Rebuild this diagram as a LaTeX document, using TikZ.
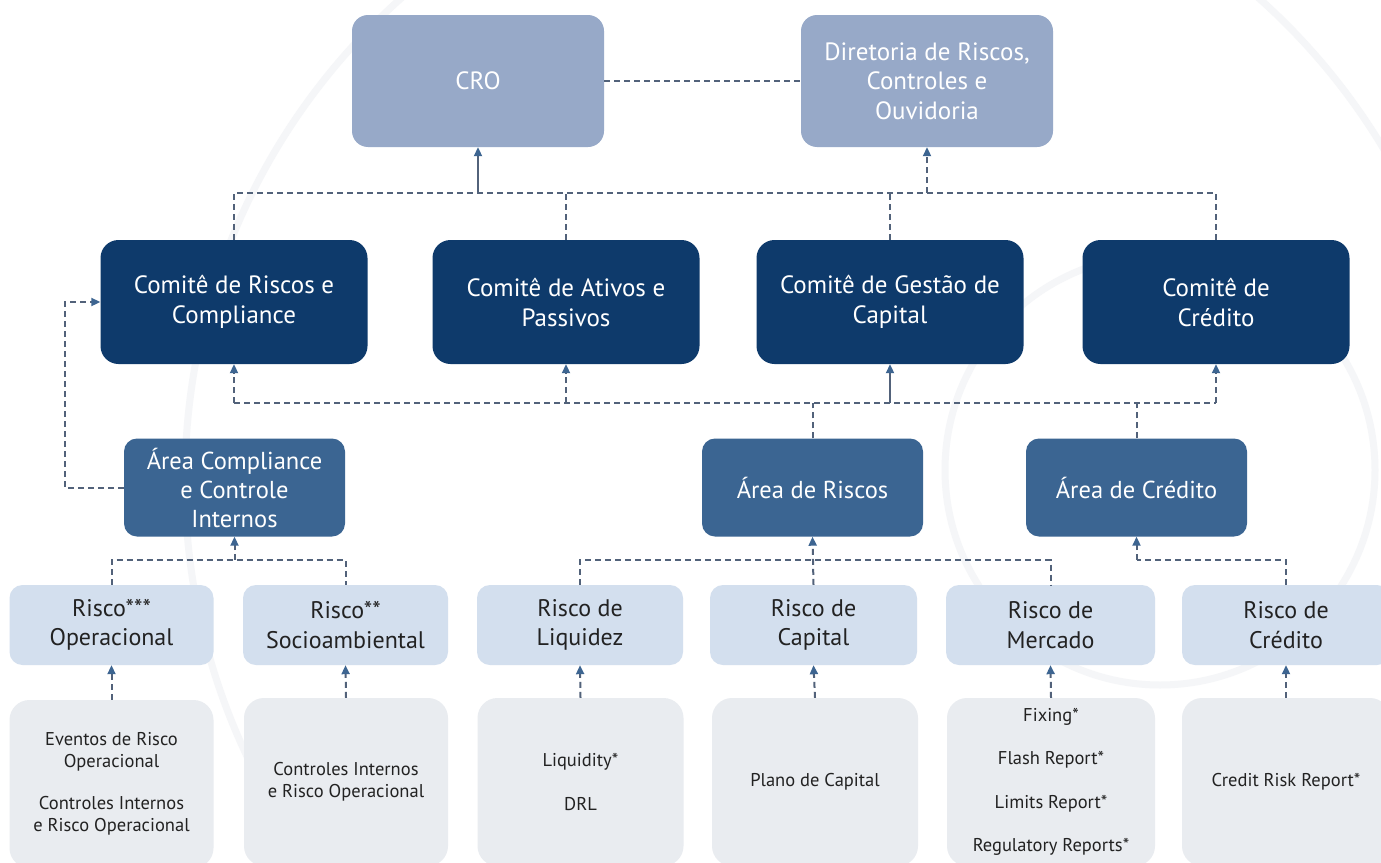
\documentclass[tikz,border=0pt]{standalone}
\usepackage{fontspec}
\setmainfont{PT Sans}
\usetikzlibrary{arrows.meta}
\definecolor{topc}{HTML}{97A9C8}
\definecolor{comc}{HTML}{0E3A6B}
\definecolor{areac}{HTML}{3B6592}
\definecolor{riskc}{HTML}{D3DFEE}
\definecolor{botc}{HTML}{E9ECF0}
\definecolor{linkc}{HTML}{52627A}
\definecolor{arrc}{HTML}{3D6591}
\definecolor{txtc}{HTML}{222222}
\definecolor{wmc}{HTML}{F5F6F8}
\tikzset{
  base/.style={rectangle, rounded corners=16pt, inner sep=0pt, align=center},
  topbox/.style={base, fill=topc, text=white, font=\fontsize{25}{29.5}\selectfont, minimum width=252pt, minimum height=132pt},
  combox/.style={base, rounded corners=18pt, fill=comc, text=white, font=\fontsize{25}{30}\selectfont, minimum width=267pt, minimum height=124pt},
  areabox/.style={base, rounded corners=13pt, fill=areac, text=white, font=\fontsize{24.5}{29}\selectfont, minimum width=221pt, minimum height=98pt},
  riskbox/.style={base, rounded corners=13pt, fill=riskc, text=txtc, font=\fontsize{24}{29.5}\selectfont, minimum width=205pt, minimum height=80pt},
  botbox/.style={base, rounded corners=20pt, fill=botc, text=txtc, font=\fontsize{18.5}{21.5}\selectfont, minimum width=205pt, minimum height=168pt},
  link/.style={draw=linkc, line width=2pt, dash pattern=on 6pt off 4pt},
  arr/.style={link, -{Triangle[length=9pt,width=8pt,color=arrc]}},
  solidarr/.style={draw=linkc, line width=2pt, -{Triangle[length=9pt,width=8pt,color=arrc]}},
  wm/.style={draw=wmc, line width=7pt}
}
\begin{document}
\begin{tikzpicture}[x=1pt,y=-1pt]
\useasboundingbox (0,0) rectangle (1381,862);
\clip (0,0) rectangle (1381,862);
\fill[white] (0,0) rectangle (1381,862);
% faint watermark
\draw[wm] (830,480) circle (645pt);
\draw[wm] (1160,470) circle (215pt);

% top row
\node[topbox] (cro) at (478,81) {CRO};
\node[topbox] (dir) at (927,81) {Diretoria de Riscos,\\Controles e\\Ouvidoria};

% committees
\node[combox] (c1) at (234,302) {Comitê de Riscos e\\Compliance};
\node[combox] (c2) at (566,302) {Comitê de Ativos e\\Passivos};
\node[combox] (c3) at (890,302) {Comitê de Gestão de\\Capital};
\node[combox] (c4) at (1216,302) {Comitê de\\Crédito};

% areas
\node[areabox] (ac) at (234.5,487.5) {Área Compliance\\e Controle\\Internos};
\node[areabox] (ar) at (812.5,487.5) {Área de Riscos};
\node[areabox] (acr) at (1136.5,487.5) {Área de Crédito};

% risk row
\node[riskbox, minimum width=204pt] (r1) at (111.5,625) {Risco***\\Operacional};
\node[riskbox, minimum width=205pt] (r2) at (345.5,625) {Risco**\\Socioambiental};
\node[riskbox, minimum width=206pt] (r3) at (580,625) {Risco de\\Liquidez};
\node[riskbox, minimum width=207pt] (r4) at (813.5,625) {Risco de\\Capital};
\node[riskbox, minimum width=209pt] (r5) at (1050.5,625) {Risco de\\Mercado};
\node[riskbox, minimum width=208pt] (r6) at (1286,625) {Risco de\\Crédito};

% bottom row
\node[botbox, minimum width=204pt] (b1) at (111.5,784) {Eventos de Risco\\Operacional\\[21pt]Controles Internos\\e Risco Operacional};
\node[botbox, minimum width=204pt] (b2) at (346,782) {Controles Internos\\e Risco Operacional};
\node[botbox, minimum width=206pt] (b3) at (580.5,782) {Liquidity*\\[22pt]DRL};
\node[botbox, minimum width=206pt] (b4) at (815,782) {Plano de Capital};
\node[botbox, minimum width=208pt, font=\fontsize{18.5}{43.5}\selectfont] (b5) at (1051,782) {Fixing*\\Flash Report*\\Limits Report*\\Regulatory Reports*};
\node[botbox, minimum width=208pt] (b6) at (1286,782) {Credit Risk Report*};

% bus coordinates
\coordinate (bus1) at (0,193);
\coordinate (bus2) at (0,403);
\coordinate (bus3) at (0,560);

% CRO -- Diretoria
\draw[link] (cro.east) -- (dir.west);

% committees to top
\draw[link] (c1.north) -- (c1.north |- bus1) -- (c4.north |- bus1) -- (c4.north);
\draw[link] (c2.north) -- (c2.north |- bus1);
\draw[link] (c3.north) -- (c3.north |- bus1);
\draw[solidarr] (cro.south |- bus1) -- (cro.south);
\draw[arr] (dir.south |- bus1) -- (dir.south);

% areas to committees
\draw[arr] (c1.south |- bus2) -- (c1.south);
\draw[arr] (c2.south |- bus2) -- (c2.south);
\draw[solidarr] (c3.south |- bus2) -- (c3.south);
\draw[arr] (c4.south |- bus2) -- (c4.south);
\draw[link] (c1.south |- bus2) -- (c4.south |- bus2);
\draw[link] (ar.north) -- (ar.north |- bus2);
\draw[link] (acr.north) -- (acr.north |- bus2);

% compliance feedback
\draw[arr] (ac.west) -- ++(-59,0) |- (c1.west);

% risk row to areas
\draw[link] (r1.north) -- (r1.north |- bus3) -- (r2.north |- bus3) -- (r2.north);
\draw[arr] (ac.south |- bus3) -- (ac.south);
\draw[link] (r3.north) -- (r3.north |- bus3) -- (r5.north |- bus3) -- (r5.north);
\draw[arr] (r4.north) -- (ar.south);
\draw[link] (r6.north) -- (r6.north |- bus3) -- (acr.south |- bus3);
\draw[arr] (acr.south |- bus3) -- (acr.south);

% bottom to risk row
\foreach \i in {1,...,6} {
  \draw[arr] (b\i.north) -- (r\i.south);
}
\end{tikzpicture}
\end{document}
